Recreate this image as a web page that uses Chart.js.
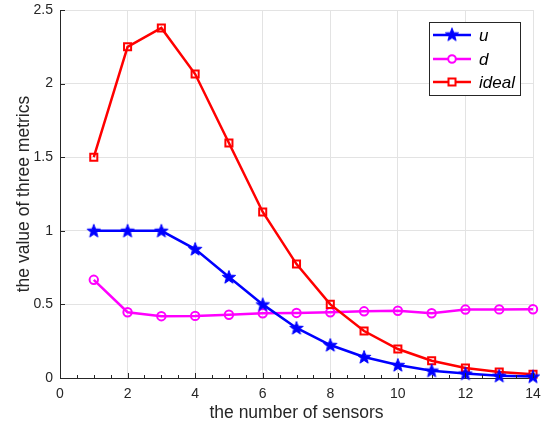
<!DOCTYPE html>
<html><head><meta charset="utf-8">
<script src="https://cdn.jsdelivr.net/npm/chart.js@4"></script>
<style>html,body{margin:0;padding:0;background:#fff}#wrap{width:546px;height:427px}</style>
</head><body><div id="wrap"><canvas id="c" width="546" height="427"></canvas></div>
<script>
const sensors = [1,2,3,4,5,6,7,8,9,10,11,12,13,14];
const uVals = [1.0,1.0,1.0,0.876,0.686,0.5,0.34,0.224,0.143,0.088,0.05,0.03,0.015,0.01];
const dVals = [0.667,0.447,0.42,0.422,0.43,0.44,0.442,0.447,0.453,0.457,0.44,0.465,0.466,0.467];
const idealVals = [1.5,2.25,2.378,2.065,1.596,1.128,0.774,0.5,0.319,0.197,0.117,0.068,0.041,0.025];
const xTicks = [0,2,4,6,8,10,12,14];
const yTicks = [0,0.5,1,1.5,2,2.5];
const seriesNames = ['u','d','ideal'];
const colors = ['#0000ff','#ff00ff','#ff0000'];
const FONT = '"Liberation Sans", Arial, sans-serif';

function starPath(ctx, cx, cy, R, r){
  ctx.beginPath();
  for(let i=0;i<10;i++){
    const a = -Math.PI/2 + i*Math.PI/5;
    const rad = i%2===0 ? R : r;
    const px = cx + rad*Math.cos(a), py = cy + rad*Math.sin(a);
    if(i===0) ctx.moveTo(px,py); else ctx.lineTo(px,py);
  }
  ctx.closePath();
}
const starImg = document.createElement('canvas');
starImg.width = 16; starImg.height = 16;
(function(){const g=starImg.getContext('2d');starPath(g,8,8.5,7,2.9);g.fillStyle='#0000ff';g.fill();g.strokeStyle='#0000ff';g.lineWidth=1;g.stroke();})();

const pts = vals => sensors.map((s,i)=>({x:s,y:vals[i]}));

const inwardTicks = {
  id:'inwardTicks',
  afterDraw(chart){
    const {ctx, chartArea:a, scales:{x,y}} = chart;
    ctx.save();
    ctx.strokeStyle='#262626'; ctx.lineWidth=1;
    ctx.beginPath();
    for(let v=0; v<=14.001; v+=0.5){
      const px = Math.round(x.getPixelForValue(v))+0.5;
      const len = (Math.abs(v/2-Math.round(v/2))<1e-6) ? 5 : 3;
      ctx.moveTo(px,a.bottom); ctx.lineTo(px,a.bottom-len);
    }
    yTicks.forEach(v=>{const py=Math.round(y.getPixelForValue(v))+0.5;ctx.moveTo(a.left,py);ctx.lineTo(a.left+5,py);});
    ctx.stroke();
    ctx.restore();
  }
};

const legendBox = {
  id:'legendBox',
  afterDraw(chart){
    const ctx = chart.ctx;
    const L=429.5,T=22.5,W=91,H=73;
    ctx.save();
    ctx.fillStyle='#fff'; ctx.fillRect(L,T,W,H);
    ctx.strokeStyle='#262626'; ctx.lineWidth=1; ctx.strokeRect(L,T,W,H);
    const rows=[35,59,82];
    rows.forEach((ry,i)=>{
      ctx.strokeStyle=colors[i]; ctx.lineWidth=2.5;
      ctx.beginPath(); ctx.moveTo(433,ry); ctx.lineTo(471,ry); ctx.stroke();
      if(i===0){ ctx.drawImage(starImg,452-8,ry-8.5); }
      else if(i===1){ ctx.lineWidth=2; ctx.beginPath(); ctx.arc(452,ry,3.8,0,Math.PI*2); ctx.fillStyle='#fff'; ctx.fill(); ctx.stroke(); }
      else { ctx.lineWidth=2; ctx.fillStyle='#fff'; ctx.fillRect(448.5,ry-3.5,7,7); ctx.strokeRect(448.5,ry-3.5,7,7); }
      ctx.fillStyle='#000'; ctx.font='italic 17px '+FONT;
      ctx.textBaseline='middle'; ctx.textAlign='left';
      ctx.fillText(seriesNames[i],479,ry+1);
    });
    ctx.restore();
  }
};

new Chart(document.getElementById('c'),{
  type:'line',
  data:{datasets:[
    {label:seriesNames[0],data:pts(uVals),borderColor:colors[0],backgroundColor:colors[0],borderWidth:2.5,pointStyle:starImg,pointRadius:7,clip:false,order:1},
    {label:seriesNames[1],data:pts(dVals),borderColor:colors[1],backgroundColor:'rgba(255,255,255,0)',borderWidth:2.5,pointStyle:'circle',pointRadius:4.2,pointBorderWidth:2,clip:false,order:3},
    {label:seriesNames[2],data:pts(idealVals),borderColor:colors[2],backgroundColor:'rgba(255,255,255,0)',borderWidth:2.5,pointStyle:'rect',pointRadius:5,pointBorderWidth:2,clip:false,order:2}
  ]},
  options:{
    responsive:false, animation:false,
    layout:{padding:{top:10,right:13,left:14,bottom:0}},
    plugins:{legend:{display:false},tooltip:{enabled:false}},
    elements:{line:{tension:0}},
    scales:{
      x:{type:'linear',min:0,max:14,
        afterBuildTicks(s){s.ticks=xTicks.map(v=>({value:v}));},
        afterFit(s){s.height=49;s.paddingLeft=0;s.paddingRight=0;},
        grid:{color:'#e3e3e3',drawTicks:false,tickLength:0},
        border:{color:'#262626',width:1},
        ticks:{color:'#262626',font:{family:FONT,size:14},padding:8,maxRotation:0,autoSkip:false},
        title:{display:true,text:'the number of sensors',color:'#262626',font:{family:FONT,size:17.5},padding:{top:0,bottom:3}}
      },
      y:{type:'linear',min:0,max:2.5,
        afterBuildTicks(s){s.ticks=yTicks.map(v=>({value:v}));},
        afterFit(s){s.width=46;s.paddingTop=0;s.paddingBottom=0;},
        grid:{color:'#e3e3e3',drawTicks:false,tickLength:0},
        border:{color:'#262626',width:1},
        ticks:{color:'#262626',font:{family:FONT,size:14},padding:7,callback:v=>String(v),autoSkip:false},
        title:{display:true,text:'the value of three metrics',color:'#262626',font:{family:FONT,size:17.5},padding:{top:0,bottom:4}}
      }
    }
  },
  plugins:[inwardTicks,legendBox]
});
</script></body></html>
